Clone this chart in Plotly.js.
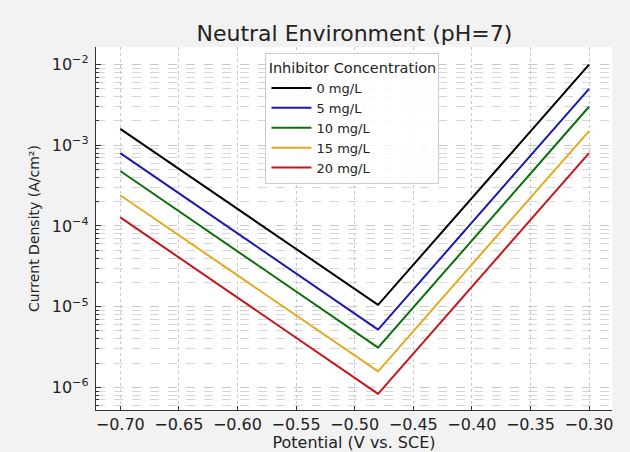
<!DOCTYPE html>
<html>
<head>
<meta charset="utf-8">
<script src="https://cdn.plot.ly/plotly-3.0.1.min.js"></script>
<style>html,body{margin:0;padding:0;background:#f2f2f2;}
.js-line{stroke-linejoin:round;}</style>
</head>
<body>
<div id="chart" style="width:630px;height:452px;"></div>
<script>
const potential = [-0.70, -0.48, -0.30];
const seriesNames = ["0 mg/L", "5 mg/L", "10 mg/L", "15 mg/L", "20 mg/L"];
const current0 = [1.6e-3, 1.05e-5, 1.0e-2];
const current5 = [8.0e-4, 5.2e-6, 5.0e-3];
const current10 = [4.8e-4, 3.1e-6, 3.0e-3];
const current15 = [2.4e-4, 1.58e-6, 1.5e-3];
const current20 = [1.28e-4, 8.3e-7, 8.0e-4];
const xTicks = [-0.70, -0.65, -0.60, -0.55, -0.50, -0.45, -0.40, -0.35, -0.30];
const xTickText = ["\u22120.70", "\u22120.65", "\u22120.60", "\u22120.55", "\u22120.50", "\u22120.45", "\u22120.40", "\u22120.35", "\u22120.30"];
const yTicks = [1e-6, 1e-5, 1e-4, 1e-3, 1e-2];
const yTickText = ["10<sup>\u22126</sup>", "10<sup>\u22125</sup>", "10<sup>\u22124</sup>", "10<sup>\u22123</sup>", "10<sup>\u22122</sup>"];

const allSeries = [current0, current5, current10, current15, current20];
const colors = ["#000000", "#1a1ab0", "#0a700a", "#e3aa1f", "#c8141c"];

const traces = allSeries.map((ys, i) => ({
  x: potential, y: ys, name: seriesNames[i], type: "scatter", mode: "lines",
  line: {color: colors[i], width: 2}
}));

const font = "DejaVu Sans, Liberation Sans, sans-serif";
const layout = {
  width: 630, height: 452,
  paper_bgcolor: "#f2f2f2", plot_bgcolor: "#ffffff",
  margin: {l: 96, r: 18, t: 47, b: 42},
  font: {family: font, color: "#222", size: 14},
  title: {text: "Neutral Environment (pH=7)", font: {family: font, size: 22, color: "#222"},
          x: 0.5625, xanchor: "center", y: 0.927, yanchor: "middle"},
  xaxis: {
    title: {text: "Potential (V vs. SCE)", font: {size: 16}, standoff: 3},
    range: [-0.7207, -0.2804], tickvals: xTicks, ticktext: xTickText,
    ticks: "inside", ticklen: 4, tickcolor: "#333", tickfont: {size: 16},
    showline: true, linecolor: "#333", linewidth: 1.2, mirror: false,
    showgrid: true, gridcolor: "#c8c8c8", griddash: "dot", gridwidth: 1, zeroline: false
  },
  yaxis: {
    title: {text: "Current Density (A/cm\u00b2)", font: {size: 14}, standoff: 8},
    type: "log", range: [-6.281, -1.782], tickvals: yTicks, ticktext: yTickText,
    ticks: "inside", ticklen: 5, tickcolor: "#333", tickfont: {size: 16},
    ticklabelstandoff: 3,
    showline: true, linecolor: "#333", linewidth: 1.2, mirror: false,
    showgrid: true, gridcolor: "#c8c8c8", griddash: "dash", gridwidth: 1, zeroline: false,
    minor: {dtick: "D1", ticks: "inside", ticklen: 2.5, tickcolor: "#333",
            showgrid: true, gridcolor: "#d6d6d6", griddash: "dash", gridwidth: 1}
  },
  legend: {
    title: {text: "Inhibitor Concentration", font: {size: 14.5}, side: "top center"},
    x: 0.497, xanchor: "center", y: 0.983, yanchor: "top",
    bgcolor: "rgba(255,255,255,0.85)", bordercolor: "#cccccc", borderwidth: 1,
    font: {size: 13}, tracegroupgap: 0, itemwidth: 40
  },
  showlegend: true
};

Plotly.newPlot("chart", traces, layout, {displayModeBar: false, staticPlot: true});
</script>
</body>
</html>
